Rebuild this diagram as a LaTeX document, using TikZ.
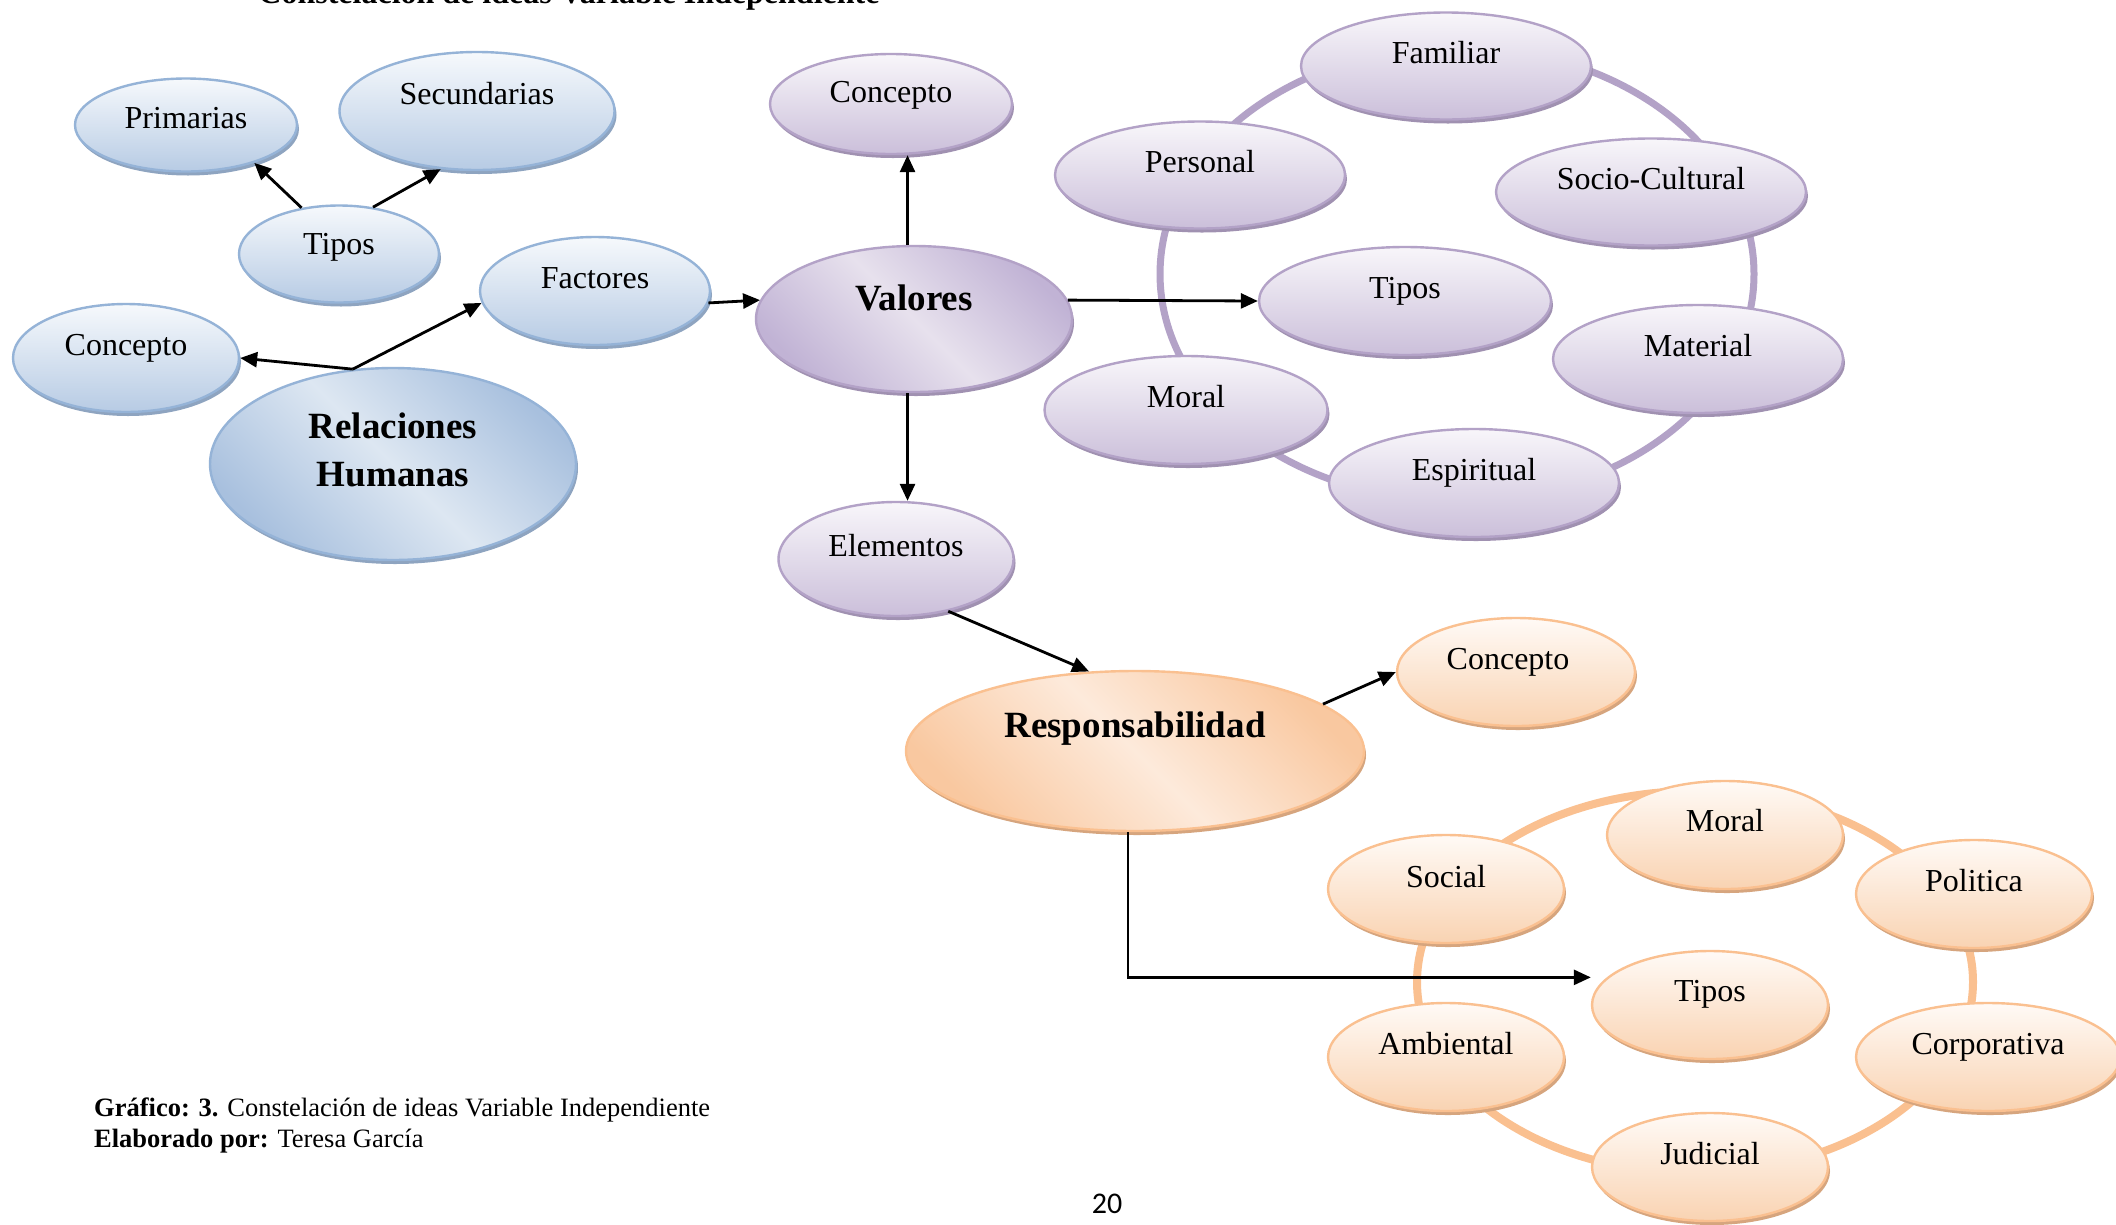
\documentclass[tikz,border=0pt]{standalone}
\usepackage{fontspec}
\setmainfont{Liberation Serif}
\newfontfamily\pgnumfont{Carlito}
\usetikzlibrary{shapes.geometric,shadows,arrows.meta}
\definecolor{bBorder}{HTML}{95B3D7}
\definecolor{bTop}{HTML}{F6F9FC}
\definecolor{bBot}{HTML}{B7CBE4}
\definecolor{bDark}{HTML}{A8C0DE}
\definecolor{bLight}{HTML}{DDE7F2}
\definecolor{bSh}{HTML}{8EA4C0}
\definecolor{pBorder}{HTML}{B3A2C7}
\definecolor{pTop}{HTML}{F8F6FA}
\definecolor{pBot}{HTML}{CBBFDA}
\definecolor{pDark}{HTML}{C1B3D5}
\definecolor{pLight}{HTML}{E7E1ED}
\definecolor{pSh}{HTML}{A091B1}
\definecolor{pRing}{HTML}{B3A2C7}
\definecolor{oBorder}{HTML}{FAC090}
\definecolor{oTop}{HTML}{FFFAF6}
\definecolor{oBot}{HTML}{F9D3B2}
\definecolor{oDark}{HTML}{F9C8A0}
\definecolor{oLight}{HTML}{FDEADB}
\definecolor{oSh}{HTML}{D6A57E}
\definecolor{oRing}{HTML}{FAC090}
\tikzset{
  bubbase/.style={ellipse, inner sep=0pt, line width=2.4pt},
  bubB/.style={bubbase, draw=bBorder, top color=bTop, bottom color=bBot,
    drop shadow={shadow xshift=2pt, shadow yshift=-4pt, fill=bSh, opacity=1}},
  bubP/.style={bubbase, draw=pBorder, top color=pTop, bottom color=pBot,
    drop shadow={shadow xshift=2pt, shadow yshift=-4pt, fill=pSh, opacity=1}},
  bubO/.style={bubbase, draw=oBorder, top color=oTop, bottom color=oBot,
    drop shadow={shadow xshift=2pt, shadow yshift=-4pt, fill=oSh, opacity=1}},
  bigB/.style={bubbase, draw=bBorder, top color=bDark, bottom color=bDark, middle color=bLight, shading angle=-45,
    drop shadow={shadow xshift=2pt, shadow yshift=-4pt, fill=bSh, opacity=1}},
  bigP/.style={bubbase, draw=pBorder, top color=pDark, bottom color=pDark, middle color=pLight, shading angle=-45,
    drop shadow={shadow xshift=2pt, shadow yshift=-4pt, fill=pSh, opacity=1}},
  bigO/.style={bubbase, draw=oBorder, top color=oDark, bottom color=oDark, middle color=oLight, shading angle=-45,
    drop shadow={shadow xshift=2pt, shadow yshift=-4pt, fill=oSh, opacity=1}},
  txt/.style={anchor=base, inner sep=0pt, font=\fontsize{32pt}{38pt}\selectfont},
  btxt/.style={anchor=base, inner sep=0pt, font=\fontsize{37pt}{44pt}\selectfont\bfseries},
  captxt/.style={anchor=base west, inner sep=0pt, font=\fontsize{26.5pt}{31pt}\selectfont},
  arr/.style={-{Triangle[length=17pt,width=15pt]}, line width=2.8pt, black}
}
\begin{document}
\begin{tikzpicture}[x=1pt,y=-1pt]
\clip (0,0) rectangle (2116,1224);
\fill[white] (0,0) rectangle (2116,1224);

% title (cut off at top, as in the page)
\node[anchor=base, inner sep=0pt, font=\fontsize{32pt}{38pt}\selectfont\bfseries] (ttl) at (569,3) {Constelación de ideas Variable Independiente};

% rings
\coordinate (ringPc) at (1457,274);
\coordinate (ringOc) at (1695,982);
\draw[pRing, line width=7pt] (ringPc) ellipse [x radius=297pt, y radius=227pt];
\draw[oRing, line width=8pt] (ringOc) ellipse [x radius=278pt, y radius=191pt];

% blue group
\node[bubB, minimum width=222pt, minimum height=93pt] (prim) at (186,125) {};
\node[txt] (primT) at ([yshift=-3pt]prim.center) {Primarias};
\node[bubB, minimum width=275pt, minimum height=118pt] (sec) at (477,111) {};
\node[txt] (secT) at ([yshift=7pt]sec.center) {Secundarias};
\node[bubB, minimum width=200pt, minimum height=97pt] (tb) at (339,254) {};
\node[txt] (tbT) at (tb.center) {Tipos};
\node[bubB, minimum width=230pt, minimum height=108pt] (fac) at (595,291) {};
\node[txt] (facT) at ([yshift=3pt]fac.center) {Factores};
\node[bubB, minimum width=226pt, minimum height=108pt] (cb) at (126,358) {};
\node[txt] (cbT) at ([yshift=3pt]cb.center) {Concepto};
\node[bigB, minimum width=366pt, minimum height=192pt] (rh) at (393,464) {};
\node[btxt] (rhT1) at ([yshift=26pt]rh.center) {Relaciones};
\node[btxt] (rhT2) at ([yshift=-22pt]rh.center) {Humanas};

% purple group
\node[bubP, minimum width=242pt, minimum height=100pt] (cp) at (891,104) {};
\node[txt] (cpT) at ([yshift=2pt]cp.center) {Concepto};
\node[bigP, minimum width=316pt, minimum height=146pt] (val) at (914,319) {};
\node[btxt] (valT) at ([yshift=9pt]val.center) {Valores};
\node[bubP, minimum width=235pt, minimum height=114pt] (el) at (896,559) {};
\node[txt] (elT) at ([yshift=3pt]el.center) {Elementos};
\node[bubP, minimum width=290pt, minimum height=107pt] (fam) at (1446,66) {};
\node[txt] (famT) at ([yshift=3pt]fam.center) {Familiar};
\node[bubP, minimum width=290pt, minimum height=107pt] (per) at (1200,175) {};
\node[txt] (perT) at ([yshift=3pt]per.center) {Personal};
\node[bubP, minimum width=310pt, minimum height=107pt] (soc) at (1651,192) {};
\node[txt] (socT) at ([yshift=3pt]soc.center) {Socio-Cultural};
\node[bubP, minimum width=292pt, minimum height=108pt] (tp) at (1405,301) {};
\node[txt] (tpT) at ([yshift=3pt]tp.center) {Tipos};
\node[bubP, minimum width=290pt, minimum height=108pt] (mat) at (1698,359) {};
\node[txt] (matT) at ([yshift=3pt]mat.center) {Material};
\node[bubP, minimum width=283pt, minimum height=108pt] (mor) at (1186,410) {};
\node[txt] (morT) at ([yshift=3pt]mor.center) {Moral};
\node[bubP, minimum width=290pt, minimum height=108pt] (esp) at (1474,483) {};
\node[txt] (espT) at ([yshift=3pt]esp.center) {Espiritual};

% orange group
\node[bigO, minimum width=458pt, minimum height=160pt] (resp) at (1135,751) {};
\node[btxt] (respT) at ([yshift=14pt]resp.center) {Responsabilidad};
\node[bubO, minimum width=238pt, minimum height=108pt] (co) at (1516,672) {};
\node[txt] (coT) at ([xshift=-8pt,yshift=3pt]co.center) {Concepto};
\node[bubO, minimum width=236pt, minimum height=108pt] (om) at (1725,835) {};
\node[txt] (omT) at ([yshift=4pt]om.center) {Moral};
\node[bubO, minimum width=236pt, minimum height=108pt] (os) at (1446,889) {};
\node[txt] (osT) at ([yshift=2pt]os.center) {Social};
\node[bubO, minimum width=236pt, minimum height=108pt] (op) at (1974,894) {};
\node[txt] (opT) at ([yshift=3pt]op.center) {Politica};
\node[bubO, minimum width=236pt, minimum height=108pt] (ot) at (1710,1005) {};
\node[txt] (otT) at ([yshift=4pt]ot.center) {Tipos};
\node[bubO, minimum width=236pt, minimum height=108pt] (oa) at (1446,1057) {};
\node[txt] (oaT) at ([yshift=3pt]oa.center) {Ambiental};
\node[bubO, minimum width=264pt, minimum height=108pt] (oc) at (1988,1057) {};
\node[txt] (ocT) at ([yshift=3pt]oc.center) {Corporativa};
\node[bubO, minimum width=236pt, minimum height=108pt] (oj) at (1710,1167) {};
\node[txt] (ojT) at ([yshift=3pt]oj.center) {Judicial};

% connectors
\draw[arr] (tb.129) -- (prim.-29);
\draw[arr] (tb.54) -- (sec.-122);
\draw[arr] (rh.113) -- (cb.east);
\draw[arr] (rh.113) -- (fac.186);
\draw[arr] (fac.-6) -- (val.173);
\draw[arr] (val.95) -- (val.95 |- cp.south);
\draw[arr] (val.265) -- (val.265 |- el.north);
\draw[arr] (val.7) -- (tp.west);
\draw[arr] (el.-45) -- (resp.120);
\draw[arr] (resp.14) -- (co.west);
\draw[arr] (resp.265) |- (ot.165 -| ot.west);

% caption
\node[captxt] (cap1) at (94,1116) {\textbf{Gráfico: 3.} Constelación de ideas Variable Independiente};
\node[captxt] (cap2) at (94,1147) {\textbf{Elaborado por:} Teresa García};
\node[anchor=base, inner sep=0pt, font=\pgnumfont\fontsize{30pt}{36pt}\selectfont] (pgn) at (1107,1213) {20};
\end{tikzpicture}
\end{document}
